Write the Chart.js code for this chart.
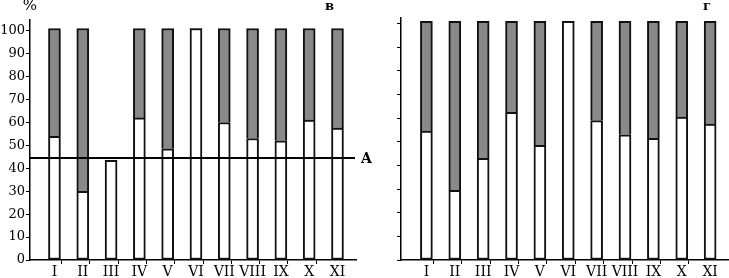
<!DOCTYPE html>
<html>
<head>
<meta charset="utf-8">
<script src="https://cdn.jsdelivr.net/npm/chart.js@4"></script>
<style>
  body { margin: 0; background: #fff; }
  #wrap { position: relative; width: 729px; height: 278px; overflow: hidden; }
  .box { position: absolute; top: 0; height: 278px; }
</style>
</head>
<body>
<div id="wrap">
  <div class="box" style="left:0;width:380px"><canvas id="grafico-v"></canvas></div>
  <div class="box" style="left:380px;width:349px"><canvas id="grafico-g"></canvas></div>
</div>
<script>
// Datos
const etiquetas = ["I", "II", "III", "IV", "V", "VI", "VII", "VIII", "IX", "X", "XI"];
// Panel в: parte blanca (inferior) y gris (superior), en %
const blancoV = [54, 30, 43.5, 62, 48.5, 101, 60, 53, 52, 61, 57.5];
const grisV = [47, 71, 0, 39, 52.5, 0, 41, 48, 49, 40, 43.5];
// Panel г: parte blanca (inferior) y gris (superior), en %
const blancoG = [54.5, 29.5, 43, 62.5, 48.5, 101, 59, 53, 51.5, 60.5, 57.5];
const grisG = [46.5, 71.5, 58, 38.5, 52.5, 0, 42, 48, 49.5, 40.5, 43.5];
const nivelA = 44.5;
const ticksY = [0, 10, 20, 30, 40, 50, 60, 70, 80, 90, 100];

const fuente = "'DejaVu Serif', 'Liberation Serif', serif";
const gris = "#898989";

// Ticks del eje x: enteros con etiqueta, medios solo con marca
function ticksX(scale) {
    const t = [];
    for (let i = 1; i <= etiquetas.length; i++) {
        t.push({ value: i });
        if (i < etiquetas.length) t.push({ value: i + 0.5 });
    }
    scale.ticks = t;
}

// Plugin para textos (%, в, г, A) y la línea horizontal A
const textos = {
    id: "textos",
    afterDraw(chart, args, opts) {
        const c = chart.ctx;
        const area = chart.chartArea;
        c.save();
        c.fillStyle = "#000";
        if (opts.linea) {
            const y = chart.scales.y.getPixelForValue(nivelA);
            c.strokeStyle = "#000";
            c.lineWidth = 2;
            c.beginPath();
            c.moveTo(area.left, y);
            c.lineTo(area.right - 1, y);
            c.stroke();
            c.font = "bold 14px " + fuente;
            c.textBaseline = "middle";
            c.fillText("A", area.right + 5, y + 1);
        }
        if (opts.porcentaje) {
            c.font = "15px " + fuente;
            c.textAlign = "center";
            c.textBaseline = "top";
            c.fillText("%", area.left, -1);
        }
        c.font = "bold 13px " + fuente;
        c.textAlign = "left";
        c.textBaseline = "alphabetic";
        c.fillText(opts.letra, opts.letraX, 10);
        c.restore();
    }
};

function crearGrafico(id, blanco, grisArr, cfg) {
    return new Chart(document.getElementById(id), {
        type: "bar",
        data: {
            datasets: [
                {
                    data: blanco.map((v, i) => ({ x: i + 1, y: v })),
                    backgroundColor: "#ffffff",
                    borderColor: "#111",
                    borderWidth: 2,
                    borderSkipped: false,
                    barThickness: 12
                },
                {
                    data: grisArr.map((v, i) => ({ x: i + 1, y: v })),
                    backgroundColor: gris,
                    borderColor: "#111",
                    borderWidth: ctx => (ctx.raw && ctx.raw.y > 0 ? 2 : 0),
                    borderSkipped: "bottom",
                    barThickness: 12
                }
            ]
        },
        options: {
            responsive: true,
            maintainAspectRatio: false,
            animation: false,
            layout: { padding: { top: cfg.top, right: cfg.right, left: 0, bottom: 0 } },
            plugins: {
                legend: { display: false },
                tooltip: { enabled: false },
                textos: cfg.textos
            },
            scales: {
                x: {
                    type: "linear",
                    stacked: true,
                    min: cfg.xmin,
                    max: cfg.xmax,
                    afterBuildTicks: ticksX,
                    afterFit: s => { s.height = 18; },
                    border: { color: "#000", width: 1.5 },
                    grid: {
                        drawOnChartArea: false,
                        tickLength: 4,
                        tickColor: ctx => (ctx.tick && ctx.tick.value % 1 !== 0) ? "#000" : "rgba(0,0,0,0)"
                    },
                    ticks: {
                        autoSkip: false,
                        maxRotation: 0,
                        padding: 0,
                        color: "#000",
                        font: { family: fuente, size: 14 },
                        callback: v => (v % 1 === 0 ? etiquetas[v - 1] : "")
                    }
                },
                y: {
                    stacked: true,
                    min: 0,
                    max: cfg.ymax,
                    afterBuildTicks: s => { s.ticks = ticksY.map(v => ({ value: v })); },
                    afterFit: s => { s.width = cfg.ancho; },
                    border: { color: "#000", width: 1.5 },
                    grid: { drawOnChartArea: false, tickLength: 4, tickColor: "#000" },
                    ticks: {
                        padding: 1,
                        color: "#000",
                        font: { family: fuente, size: 13 },
                        callback: v => (cfg.conEtiquetas ? v : "")
                    }
                }
            }
        },
        plugins: [textos]
    });
}

crearGrafico("grafico-v", blancoV, grisV, {
    top: 20, right: 24, xmin: 0.41, xmax: 11.38, ymax: 104.7, ancho: 30,
    conEtiquetas: true,
    textos: { linea: true, porcentaje: true, letra: "в", letraX: 325 }
});
crearGrafico("grafico-g", blancoG, grisG, {
    top: 18, right: 0, xmin: 0.38, xmax: 11.39, ymax: 102.4, ancho: 21,
    conEtiquetas: false,
    textos: { linea: false, porcentaje: false, letra: "г", letraX: 323 }
});
</script>
</body>
</html>
